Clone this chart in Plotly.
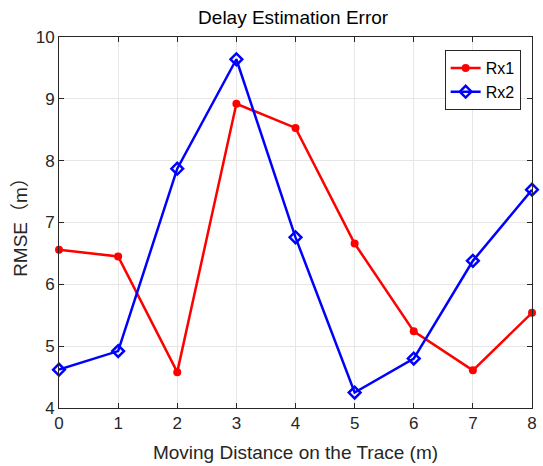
import plotly.graph_objects as go

distance = [0, 1, 2, 3, 4, 5, 6, 7, 8]
rx1 = [6.56, 6.45, 4.58, 8.92, 8.53, 6.66, 5.24, 4.61, 5.54]
rx2 = [4.62, 4.92, 7.87, 9.64, 6.76, 4.25, 4.80, 6.38, 7.53]

font_family = "Liberation Sans, Arial, Noto Sans CJK SC, sans-serif"

fig = go.Figure()
fig.add_trace(go.Scatter(
    x=distance, y=rx1, name="Rx1", mode="lines+markers",
    line=dict(color="#ff0000", width=2.5),
    marker=dict(symbol="circle", size=8, color="#ff0000"),
    cliponaxis=False,
))
fig.add_trace(go.Scatter(
    x=distance, y=rx2, name="Rx2", mode="lines+markers",
    line=dict(color="#0000ff", width=2.5),
    marker=dict(symbol="diamond-open", size=9, color="#0000ff",
                line=dict(width=2.5, color="#0000ff")),
    cliponaxis=False,
))

axis_common = dict(
    showline=True, linecolor="#262626", linewidth=1, mirror="ticks",
    ticks="inside", ticklen=5, tickcolor="#262626",
    showgrid=True, gridcolor="#e6e6e6", gridwidth=1,
    zeroline=False, tickfont=dict(size=17, color="#262626"),
    ticklabeloverflow="allow",
)

fig.update_layout(
    width=543, height=466,
    margin=dict(l=59, r=6, t=37, b=57),
    paper_bgcolor="white", plot_bgcolor="white",
    font=dict(family=font_family, color="#262626"),
    title=dict(text="Delay Estimation Error", xref="paper", x=0.495,
               xanchor="center", yref="container", y=0.962, yanchor="middle",
               font=dict(size=19, color="#000000")),
    xaxis=dict(axis_common, range=[0, 8], dtick=1,
               title=dict(text="Moving Distance on the Trace (m)",
                          font=dict(size=19), standoff=13)),
    yaxis=dict(axis_common, range=[4, 10], dtick=1,
               title=dict(text="RMSE（m）", font=dict(size=19), standoff=3)),
    legend=dict(x=0.976, y=0.965, xanchor="right", yanchor="top",
                bgcolor="white", bordercolor="#262626", borderwidth=1,
                font=dict(size=16, color="#000000"),
                tracegroupgap=0, itemwidth=30),
    showlegend=True,
)

fig.write_html("out.html")
